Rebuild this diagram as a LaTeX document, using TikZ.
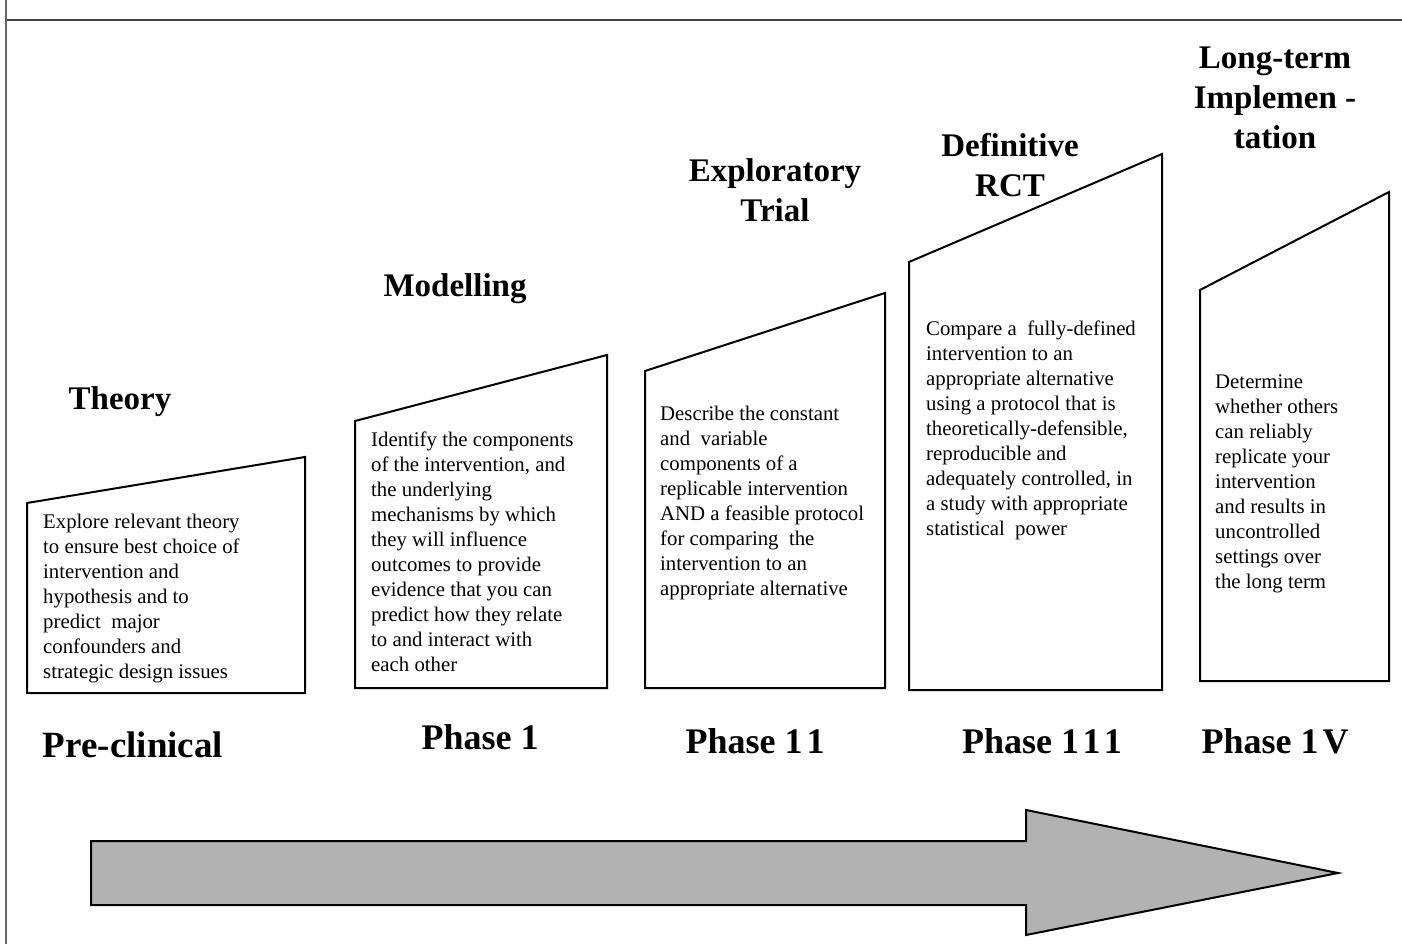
\documentclass[tikz,border=0pt]{standalone}
\usepackage{fontspec}
\setmainfont{Liberation Serif}
\begin{document}
\begin{tikzpicture}[x=1pt,y=-1pt,
  stage/.style={draw=black,line width=2pt,line join=miter},
  title/.style={font=\fontsize{33}{40}\selectfont\bfseries,align=center,inner sep=0pt},
  phase/.style={font=\fontsize{36}{42}\selectfont\bfseries,inner sep=0pt},
  body/.style={font=\fontsize{20.8}{25}\selectfont,align=left,anchor=north west,inner sep=0pt},
  bigarrow/.style={draw=black,line width=2pt,fill=gray!60,line join=miter}
]
\useasboundingbox (0,0) rectangle (1402,944);
% frame
\draw[line width=2pt,black!75] (6,20) -- (1402,20);
\draw[line width=1.5pt,black!60] (6,0) -- (6,944);

% stage boxes
\draw[stage] (27,503) -- (305,457) -- (305,693) -- (27,693) -- cycle;
\draw[stage] (355,421) -- (607,355) -- (607,688) -- (355,688) -- cycle;
\draw[stage] (645,371) -- (885,293) -- (885,688) -- (645,688) -- cycle;
\draw[stage] (909,262) -- (1162,154) -- (1162,690) -- (909,690) -- cycle;
\draw[stage] (1200,290) -- (1389,192) -- (1389,681) -- (1200,681) -- cycle;

% titles
\node[title] (t1) at (120,402) {Theory};
\node[title] (t2) at (455,289) {Modelling};
\node[title] (t3) at (775,190) {Exploratory\\Trial};
\node[title] (t4) at (1010,165) {Definitive\\RCT};
\node[title] (t5) at (1275,98) {Long-term\\Implemen -\\tation};

% body texts
\node[body] (d1) at (43,514) {Explore relevant theory\\to ensure best choice of\\intervention and\\hypothesis and to\\predict\ \ major\\confounders and\\strategic design issues};
\node[body] (d2) at (371,432) {Identify the components\\of the intervention, and\\the underlying\\mechanisms by which\\they will influence\\outcomes to provide\\evidence that you can\\predict how they relate\\to and interact with\\each other};
\node[body] (d3) at (660,406) {Describe the constant\\and\ \ variable\\components of a\\replicable intervention\\AND a feasible protocol\\for comparing\ \ the\\intervention to an\\appropriate alternative};
\node[body] (d4) at (926,321) {Compare a\ \ fully-defined\\intervention to an\\appropriate alternative\\using a protocol that is\\theoretically-defensible,\\reproducible and\\adequately controlled, in\\a study with appropriate\\statistical\ \ power};
\node[body] (d5) at (1215,375) {Determine\\whether others\\can reliably\\replicate your\\intervention\\and results in\\uncontrolled\\settings over\\the long term};

% phase labels
\node[phase,font=\fontsize{37}{42}\selectfont\bfseries] (p0) at (133,745) {Pre-clinical};
\node[phase] (p1) at (480,737) {Phase 1};
\node[phase] (p2) at (755,741) {Phase 1\kern4pt 1};
\node[phase] (p3) at (1042,741) {Phase 1\kern3.5pt 1\kern3.5pt 1};
\node[phase] (p4) at (1275,741) {Phase 1\kern4pt V};

% progress arrow
\coordinate (arrtail) at (91,873);
\coordinate (arrtip) at (1338,873);
\draw[bigarrow] (91,841) -- (1026,841) -- (1026,810) -- (arrtip) -- (1026,935) -- (1026,905) -- (91,905) -- cycle;
\end{tikzpicture}
\end{document}
